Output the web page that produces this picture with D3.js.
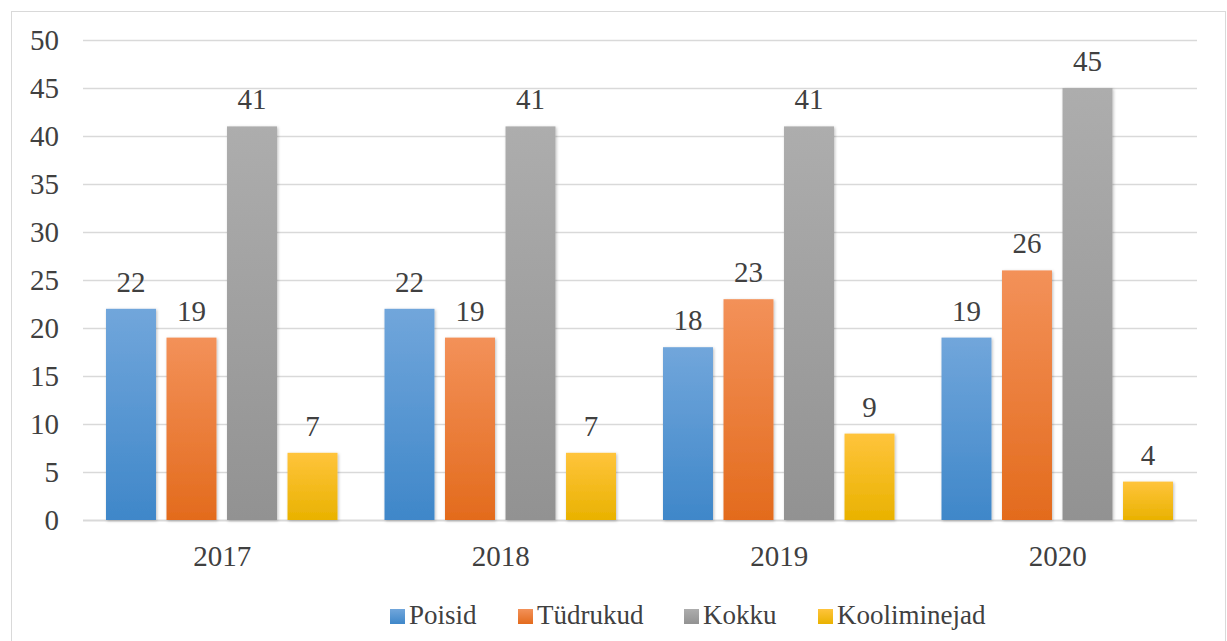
<!DOCTYPE html>
<html>
<head>
<meta charset="utf-8">
<script src="https://cdn.jsdelivr.net/npm/d3@7"></script>
<style>
  body { margin: 0; background: #fff; }
</style>
</head>
<body>
<div id="chart"></div>
<script>
var years = ["2017", "2018", "2019", "2020"];
var series = ["Poisid", "Tüdrukud", "Kokku", "Kooliminejad"];
var poisid = [22, 22, 18, 19];
var tydrukud = [19, 19, 23, 26];
var kokku = [41, 41, 41, 45];
var kooliminejad = [7, 7, 9, 4];
var yTicks = [0, 5, 10, 15, 20, 25, 30, 35, 40, 45, 50];

var values = [poisid, tydrukud, kokku, kooliminejad];
var colors = [
    ["#71a6db", "#3f87c9"],
    ["#f39159", "#e36b1d"],
    ["#adadad", "#929292"],
    ["#ffc43c", "#e9b200"]
];

var width = 1227, height = 641;
var plotLeft = 83, plotRight = 1197, plotTop = 40, plotBottom = 520;
var serif = "'Liberation Serif', 'DejaVu Serif', serif";

var svg = d3.select("#chart").append("svg")
    .attr("width", width)
    .attr("height", height)
    .attr("font-family", serif);

var defs = svg.append("defs");
colors.forEach(function (c, i) {
    var g = defs.append("linearGradient")
        .attr("id", "grad" + i)
        .attr("x1", 0).attr("y1", 0).attr("x2", 0).attr("y2", 1);
    g.append("stop").attr("offset", "0%").attr("stop-color", c[0]);
    g.append("stop").attr("offset", "100%").attr("stop-color", c[1]);
});
var shadow = defs.append("filter").attr("id", "shadow")
    .attr("x", "-20%").attr("y", "-10%").attr("width", "140%").attr("height", "120%");
shadow.append("feDropShadow")
    .attr("dx", 1).attr("dy", 1).attr("stdDeviation", 1.5)
    .attr("flood-color", "#000").attr("flood-opacity", 0.25);

// outer border
svg.append("rect")
    .attr("x", 11.5).attr("y", 11.5)
    .attr("width", 1214).attr("height", 640)
    .attr("fill", "none")
    .attr("stroke", "#d9d9d9");

var y = d3.scaleLinear().domain([0, 50]).range([plotBottom, plotTop]);

var x0 = d3.scaleBand().domain(years).range([plotLeft, plotRight]);

var x1 = d3.scaleBand().domain(series)
    .range([23, 23 + 231.5])
    .paddingInner(0.174);

// gridlines
svg.append("g")
    .selectAll("line")
    .data(yTicks)
    .enter()
    .append("line")
    .attr("x1", plotLeft)
    .attr("x2", plotRight)
    .attr("y1", function (d) { return y(d) + 0.5; })
    .attr("y2", function (d) { return y(d) + 0.5; })
    .attr("stroke", "#d9d9d9")
    .attr("stroke-width", function (d) { return d === 0 ? 2 : 1.3; });

// y labels
svg.append("g")
    .selectAll("text")
    .data(yTicks)
    .enter()
    .append("text")
    .attr("x", 59)
    .attr("y", function (d) { return y(d) + 10; })
    .attr("text-anchor", "end")
    .attr("fill", "#404040")
    .style("font-family", serif)
    .style("font-size", "29px")
    .text(function (d) { return d; });

// bars
var groups = svg.append("g")
    .selectAll("g")
    .data(years)
    .enter()
    .append("g")
    .attr("transform", function (d) { return "translate(" + x0(d) + ",0)"; });

groups.selectAll("rect")
    .data(function (d, yi) {
        return series.map(function (s, si) { return { s: s, si: si, v: values[si][yi] }; });
    })
    .enter()
    .append("rect")
    .attr("x", function (d) { return x1(d.s); })
    .attr("y", function (d) { return y(d.v); })
    .attr("width", x1.bandwidth())
    .attr("height", function (d) { return plotBottom - y(d.v); })
    .attr("fill", function (d) { return "url(#grad" + d.si + ")"; })
    .attr("filter", "url(#shadow)");

groups.selectAll(".val")
    .data(function (d, yi) {
        return series.map(function (s, si) { return { s: s, si: si, v: values[si][yi] }; });
    })
    .enter()
    .append("text")
    .attr("class", "val")
    .attr("x", function (d) { return x1(d.s) + x1.bandwidth() / 2; })
    .attr("y", function (d) { return y(d.v) - 17; })
    .attr("text-anchor", "middle")
    .attr("fill", "#404040")
    .style("font-family", serif)
    .style("font-size", "29px")
    .text(function (d) { return d.v; });

// x labels
svg.append("g")
    .selectAll("text")
    .data(years)
    .enter()
    .append("text")
    .attr("x", function (d) { return x0(d) + x0.bandwidth() / 2; })
    .attr("y", 566)
    .attr("text-anchor", "middle")
    .attr("fill", "#404040")
    .style("font-family", serif)
    .style("font-size", "29px")
    .text(function (d) { return d; });

// legend
var legendX = [390, 518, 684, 818];
var legend = svg.append("g")
    .selectAll("g")
    .data(series)
    .enter()
    .append("g")
    .attr("transform", function (d, i) { return "translate(" + legendX[i] + ",609)"; });

legend.append("rect")
    .attr("width", 15)
    .attr("height", 15)
    .attr("fill", function (d, i) { return "url(#grad" + i + ")"; });

legend.append("text")
    .attr("x", 19)
    .attr("y", 15)
    .attr("fill", "#404040")
    .style("font-family", serif)
    .style("font-size", "27px")
    .text(function (d) { return d; });
</script>
</body>
</html>
